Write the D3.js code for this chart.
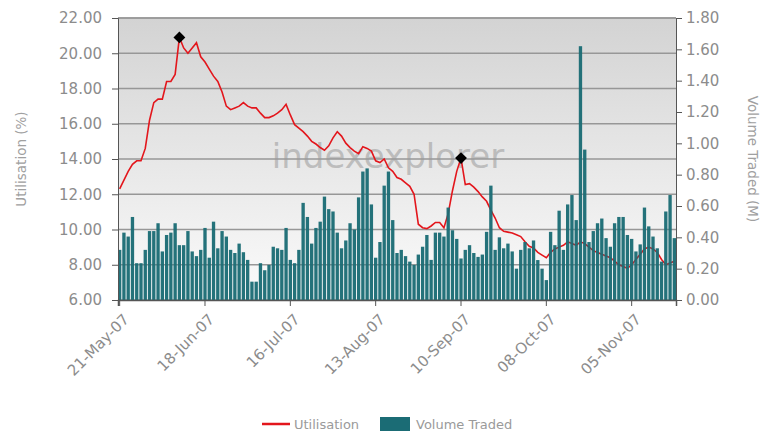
<!DOCTYPE html>
<html lang="en">
<head>
<meta charset="utf-8">
<title>Utilisation / Volume Traded</title>
<script src="https://cdn.jsdelivr.net/npm/d3@7"></script>
<style>
  body { margin: 0; background: #fff; font-family: "DejaVu Sans", Verdana, sans-serif; }
  .axis text { fill: #8c8c8c; font-size: 15px; font-family: "DejaVu Sans", Verdana, sans-serif; }
  .axis path, .axis line { stroke: #555; }
  .title { fill: #a0a0a0; font-size: 13.5px; }
  .legend text { fill: #9a9a9a; font-size: 13px; }
</style>
</head>
<body>
<div id="chart"></div>
<script>
// categories: trading days (weekdays) 21-May-07 .. 19-Nov-07
var fmt = d3.timeFormat("%d-%b-%y");
var days = d3.timeDay.range(new Date(2007, 4, 21), new Date(2007, 10, 20))
             .filter(function(d) { return d.getDay() % 6 != 0; })
             .map(fmt);

var tickLabels = ["21-May-07", "18-Jun-07", "16-Jul-07", "13-Aug-07", "10-Sep-07", "08-Oct-07", "05-Nov-07"];
var peakDays = ["08-Jun-07", "10-Sep-07"];

// utilisation (%)
var utilisation = [
  12.3, 12.8, 13.3, 13.7, 13.9, 13.9, 14.6, 16.2, 17.2, 17.4,
  17.4, 18.4, 18.4, 18.8, 20.9, 20.3, 20.0, 20.3, 20.6, 19.8,
  19.5, 19.1, 18.7, 18.4, 17.8, 17.0, 16.8, 16.9, 17.0, 17.2,
  17.0, 16.9, 16.9, 16.6, 16.35, 16.35, 16.45, 16.6, 16.8, 17.1,
  16.5, 15.95, 15.75, 15.55, 15.3, 15.0, 14.85, 14.65, 14.5, 14.75,
  15.2, 15.55, 15.3, 14.9, 14.65, 14.45, 14.3, 14.7, 14.6, 14.45,
  13.9, 13.8, 14.0, 13.5, 13.3, 12.95, 12.85, 12.65, 12.45, 12.0,
  10.3, 10.1, 10.05, 10.2, 10.4, 10.4, 10.1, 10.9, 12.2, 13.3,
  14.05, 12.55, 12.6, 12.4, 12.15, 11.85, 11.6, 11.1, 10.65, 10.1,
  9.9, 9.85, 9.8, 9.7, 9.6, 9.3, 9.05, 8.95, 8.7, 8.55,
  8.4, 8.7, 8.9, 9.0, 9.1, 9.3, 9.2, 9.1, 9.3, 9.2,
  9.0, 8.8, 8.7, 8.6, 8.5, 8.4, 8.2, 8.0, 7.9, 7.8,
  8.0, 8.3, 8.6, 8.9, 9.0, 8.9, 8.7, 8.3, 8.0, 8.1, 8.2
];

// volume traded (M)
var volume = [
  0.32, 0.43, 0.405, 0.53, 0.235, 0.235, 0.32, 0.44, 0.44, 0.49,
  0.31, 0.415, 0.43, 0.49, 0.35, 0.35, 0.44, 0.31, 0.28, 0.32,
  0.46, 0.27, 0.50, 0.33, 0.44, 0.405, 0.32, 0.30, 0.36, 0.305,
  0.256, 0.117, 0.117, 0.235, 0.19, 0.224, 0.34, 0.33, 0.32, 0.46,
  0.256, 0.235, 0.32, 0.62, 0.53, 0.36, 0.46, 0.50, 0.66, 0.58,
  0.565, 0.43, 0.33, 0.38, 0.49, 0.45, 0.655, 0.82, 0.84, 0.61,
  0.27, 0.37, 0.73, 0.82, 0.51, 0.30, 0.32, 0.28, 0.245, 0.224,
  0.29, 0.34, 0.415, 0.256, 0.43, 0.43, 0.405, 0.59, 0.445, 0.39,
  0.265, 0.32, 0.35, 0.30, 0.275, 0.29, 0.435, 0.73, 0.32, 0.40,
  0.33, 0.36, 0.31, 0.20, 0.32, 0.37, 0.33, 0.38, 0.255, 0.20,
  0.127, 0.435, 0.35, 0.57, 0.32, 0.61, 0.67, 0.51, 1.62, 0.96,
  0.37, 0.44, 0.49, 0.52, 0.395, 0.34, 0.49, 0.53, 0.53, 0.415,
  0.39, 0.31, 0.355, 0.59, 0.47, 0.405, 0.33, 0.245, 0.565, 0.67, 0.395
];

var w = 762, h = 436;
var padL = 118, padR = 676, padT = 18, padB = 300;
var lineColor = "#e3161c", barColor = "#1b6c75";

var svg = d3.select("#chart").append("svg")
            .attr("width", w)
            .attr("height", h);

var x = d3.scaleBand().domain(days).range([padL, padR]).paddingInner(0.22);
var yL = d3.scaleLinear().domain([6, 22]).range([padB, padT]);
var yR = d3.scaleLinear().domain([0, 1.8]).range([padB, padT]);

// background gradient
var grad = svg.append("defs").append("linearGradient")
              .attr("id", "bg").attr("x1", 0).attr("y1", 0).attr("x2", 0).attr("y2", 1);
grad.append("stop").attr("offset", "0%").attr("stop-color", "#d3d3d3");
grad.append("stop").attr("offset", "100%").attr("stop-color", "#fbfbfb");
svg.append("rect")
   .attr("x", padL).attr("y", padT)
   .attr("width", padR - padL).attr("height", padB - padT)
   .attr("fill", "url(#bg)");

// gridlines
svg.append("g").selectAll("line")
   .data(yL.ticks(8))
   .join("line")
   .attr("x1", padL).attr("x2", padR)
   .attr("y1", function(d) { return yL(d); })
   .attr("y2", function(d) { return yL(d); })
   .attr("stroke", "#979797")
   .attr("stroke-width", 1.4);

// watermark
svg.append("text")
   .attr("x", (padL + padR) / 2 - 9)
   .attr("y", 168)
   .attr("text-anchor", "middle")
   .attr("font-size", 34)
   .attr("fill", "#9a9a9a")
   .attr("opacity", 0.55)
   .text("indexexplorer");

// utilisation line (behind bars)
var line = d3.line()
             .x(function(d, i) { return x(days[i]) + x.bandwidth() / 2; })
             .y(function(d) { return yL(d); });
svg.append("path")
   .datum(utilisation)
   .attr("d", line)
   .attr("fill", "none")
   .attr("stroke", lineColor)
   .attr("stroke-width", 1.6);

// volume bars
svg.append("g").selectAll("rect")
   .data(volume)
   .join("rect")
   .attr("x", function(d, i) { return x(days[i]); })
   .attr("y", function(d) { return yR(d); })
   .attr("width", x.bandwidth())
   .attr("height", function(d) { return yR(0) - yR(d); })
   .attr("fill", barColor)
   .attr("fill-opacity", 0.96);

// peak markers
svg.append("g").selectAll("path")
   .data(peakDays)
   .join("path")
   .attr("d", d3.symbol(d3.symbolDiamond2, 90))
   .attr("transform", function(d) {
       var i = days.indexOf(d);
       return "translate(" + (x(d) + x.bandwidth() / 2) + "," + yL(utilisation[i]) + ")";
   })
   .attr("fill", "#000");

// top border
svg.append("line")
   .attr("x1", padL).attr("x2", padR).attr("y1", padT).attr("y2", padT)
   .attr("stroke", "#999").attr("stroke-width", 1.4);

// axes
var fmt2 = d3.format(".2f");
svg.append("g").attr("class", "axis")
   .attr("transform", "translate(" + padL + ",0)")
   .call(d3.axisLeft(yL).ticks(8).tickFormat(fmt2).tickSizeOuter(0).tickSize(6).tickPadding(10))
   .call(function(g) { g.select(".domain").attr("stroke", "#777"); });
svg.append("g").attr("class", "axis")
   .attr("transform", "translate(" + padR + ",0)")
   .call(d3.axisRight(yR).ticks(9).tickFormat(fmt2).tickSizeOuter(0).tickSize(6).tickPadding(4))
   .call(function(g) { g.select(".domain").attr("stroke", "#999"); });
var xAxis = svg.append("g").attr("class", "axis")
   .attr("transform", "translate(0," + padB + ")")
   .call(d3.axisBottom(x).tickValues(tickLabels).tickSizeOuter(0).tickSize(6));
xAxis.select(".domain").attr("stroke", "#444").attr("stroke-width", 1.5);
xAxis.selectAll("text")
   .attr("text-anchor", "end")
   .attr("dx", 0).attr("dy", 0)
   .attr("transform", "translate(4,14) rotate(-45)");

// axis titles
svg.append("text").attr("class", "title")
   .attr("transform", "translate(26," + (padT + padB) / 2 + ") rotate(-90)")
   .attr("text-anchor", "middle")
   .text("Utilisation (%)");
svg.append("text").attr("class", "title")
   .attr("transform", "translate(748," + (padT + padB) / 2 + ") rotate(90)")
   .attr("text-anchor", "middle")
   .text("Volume Traded (M)");

// legend
var lg = svg.append("g").attr("class", "legend");
lg.append("line").attr("x1", 262).attr("x2", 290).attr("y1", 424).attr("y2", 424)
  .attr("stroke", lineColor).attr("stroke-width", 2.5);
lg.append("text").attr("x", 294).attr("y", 429).text("Utilisation");
lg.append("rect").attr("x", 380).attr("y", 417).attr("width", 30).attr("height", 14)
  .attr("fill", barColor);
lg.append("text").attr("x", 416).attr("y", 429).text("Volume Traded");
</script>
</body>
</html>
